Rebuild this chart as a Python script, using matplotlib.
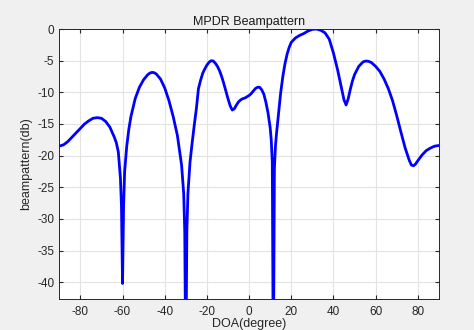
import matplotlib
matplotlib.use("Agg")
import matplotlib.pyplot as plt

# DOA (degree) and beampattern (dB)
doa = [-90, -88, -86, -84, -82, -80, -78, -76, -74, -72, -70, -68, -66, -64, -63,
       -62, -61, -60.5, -60, -59.5, -59, -58, -57, -56, -54, -52, -50, -48, -47,
       -46, -45, -44, -42, -40, -38, -36, -34, -32, -31, -30.5, -30, -29.5, -29,
       -28, -27, -26, -25, -24, -23, -22, -21, -20, -19, -18, -17, -16, -15, -14,
       -13, -12, -11, -10, -9, -8, -7, -6, -5, -4, -3, -2, -1, 0, 1, 2, 3, 4, 5,
       6, 7, 8, 9, 10, 10.5, 11, 11.5, 12, 12.5, 13, 14, 15, 16, 17, 18, 19, 20,
       22, 24, 26, 28, 30, 32, 34, 36, 38, 40, 42, 44, 45, 46, 47, 48, 49, 50,
       52, 54, 55, 56, 57, 58, 60, 62, 64, 66, 68, 70, 72, 74, 76, 77, 78, 79,
       80, 82, 84, 86, 88, 90]
gain_db = [-18.5, -18.3, -17.8, -17.1, -16.4, -15.7, -15.0, -14.5, -14.1, -14.0,
           -14.1, -14.6, -15.5, -17.0, -17.9, -19.4, -23.5, -28.0, -40.2, -28.0,
           -22.5, -18.5, -15.8, -13.8, -11.0, -9.2, -8.0, -7.2, -6.95, -6.85,
           -6.9, -7.1, -7.9, -9.3, -11.3, -13.8, -16.8, -21.5, -26.0, -32.0,
           -55.0, -32.0, -26.0, -21.0, -18.0, -15.2, -12.6, -9.4, -8.1, -7.0,
           -6.3, -5.7, -5.25, -5.0, -5.05, -5.4, -5.9, -6.6, -7.5, -8.6, -9.8,
           -11.0, -12.1, -12.8, -12.6, -12.0, -11.5, -11.2, -11.0, -10.9, -10.7,
           -10.5, -10.2, -9.8, -9.4, -9.2, -9.2, -9.6, -10.3, -11.6, -13.3,
           -15.6, -17.5, -21.0, -55.0, -22.0, -18.5, -16.5, -13.2, -10.0, -7.5,
           -5.5, -4.0, -2.9, -2.1, -1.4, -1.0, -0.7, -0.3, -0.05, 0.0, -0.2,
           -0.6, -1.6, -3.8, -6.5, -9.6, -11.2, -12.0, -11.0, -9.5, -8.2, -7.2,
           -5.9, -5.2, -5.08, -5.06, -5.15, -5.3, -5.9, -6.7, -7.9, -9.4, -11.3,
           -13.7, -16.3, -18.8, -20.8, -21.5, -21.6, -21.3, -20.8, -19.9, -19.2,
           -18.8, -18.5, -18.4]

xticks = [-80, -60, -40, -20, 0, 20, 40, 60, 80]
yticks = [0, -5, -10, -15, -20, -25, -30, -35, -40]

plt.rcParams['font.family'] = ['Liberation Sans', 'DejaVu Sans']
plt.rcParams['axes.unicode_minus'] = False

fig = plt.figure(figsize=(4.74, 3.3), dpi=100, facecolor='#f0f0f0')
ax = fig.add_axes([0.125, 0.095, 0.801, 0.817])
ax.set_facecolor('white')

ax.plot(doa, gain_db, color='#0000ff', linewidth=2.0)

ax.set_xlim(-90, 90)
ax.set_ylim(-42.6, 0)
ax.set_xticks(xticks)
ax.set_yticks(yticks)
ax.grid(True, color='#e3e3e3', linewidth=0.8)
ax.set_axisbelow(True)
ax.tick_params(direction='in', top=True, right=True, length=3,
               labelsize=8.5, colors='#262626', labelcolor='#262626')
ax.tick_params(axis='x', pad=5)
for s in ax.spines.values():
    s.set_color('#262626')
    s.set_linewidth(0.7)

ax.set_title("MPDR Beampattern", fontsize=9, color='#1a1a1a', pad=3)
ax.set_xlabel("DOA(degree)", fontsize=9, color='#262626', labelpad=0)
ax.set_ylabel("beampattern(db)", fontsize=9, color='#262626', labelpad=4)

fig.savefig("out.png", dpi=100, facecolor=fig.get_facecolor())
